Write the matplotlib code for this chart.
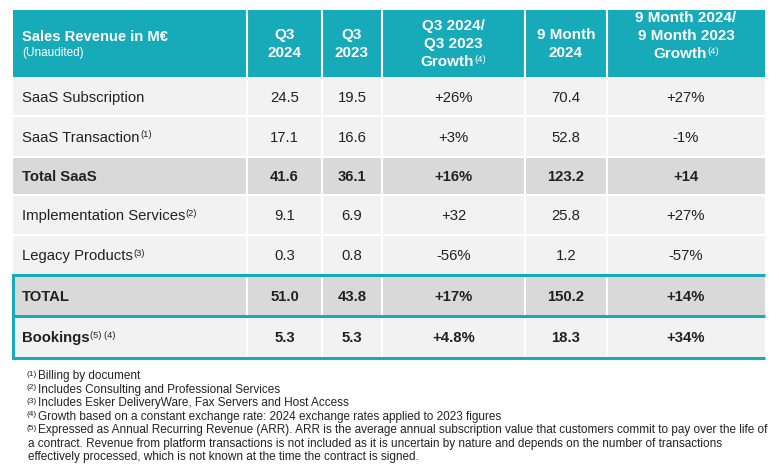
import matplotlib.pyplot as plt
from matplotlib.patches import Rectangle

# table content
col_heads = [['Q3', '2024'], ['Q3', '2023'], ['Q3 2024/', 'Q3 2023', 'Growth'],
             ['9 Month', '2024'], ['9 Month 2024/', '9 Month 2023', 'Growth']]
col_head_notes = ['', '', '(4)', '', '(4)']
row_labels = ['SaaS Subscription', 'SaaS Transaction', 'Total SaaS', 'Implementation Services',
              'Legacy Products', 'TOTAL', 'Bookings']
row_notes = ['', '(1)', '', '(2)', '(3)', '', '(5) (4)']
q3_2024 = ['24.5', '17.1', '41.6', '9.1', '0.3', '51.0', '5.3']
q3_2023 = ['19.5', '16.6', '36.1', '6.9', '0.8', '43.8', '5.3']
q3_growth = ['+26%', '+3%', '+16%', '+32', '-56%', '+17%', '+4.8%']
m9_2024 = ['70.4', '52.8', '123.2', '25.8', '1.2', '150.2', '18.3']
m9_growth = ['+27%', '-1%', '+14', '+27%', '-57%', '+14%', '+34%']
bold_rows = ['Total SaaS', 'TOTAL', 'Bookings']
shaded_rows = ['Total SaaS', 'TOTAL']

footnotes = [('(1)', 'Billing by document'),
             ('(2)', 'Includes Consulting and Professional Services'),
             ('(3)', 'Includes Esker DeliveryWare, Fax Servers and Host Access'),
             ('(4)', 'Growth based on a constant exchange rate: 2024 exchange rates applied to 2023 figures'),
             ('(5)', 'Expressed as Annual Recurring Revenue (ARR). ARR is the average annual subscription value that customers commit to pay over the life of'),
             ('', 'a contract. Revenue from platform transactions is not included as it is uncertain by nature and depends on the number of transactions'),
             ('', 'effectively processed, which is not known at the time the contract is signed.')]

TEAL = '#17AAB9'
LIGHT = '#F2F2F2'
DARK = '#D9D9D9'
TXT = '#222222'

plt.rcParams['font.family'] = ['Liberation Sans', 'DejaVu Sans']

fig = plt.figure(figsize=(7.79, 4.73), dpi=100)
ax = fig.add_axes([0, 0, 1, 1])
ax.set_xlim(0, 779)
ax.set_ylim(473, 0)
ax.axis('off')
rend = fig.canvas.get_renderer()


def put(x, y, s, sup='', ha='left', size=10, weight='normal', color=TXT, sup_dy=-3):
    kw = dict(fontsize=size, color=color, va='center', ha='left')
    t = ax.text(x, y, s, fontweight=weight, **kw)
    w = t.get_window_extent(rend).width
    sw = 0
    st = None
    if sup:
        kw['fontsize'] = size * 0.62
        st = ax.text(x + w + 0.5, y + sup_dy, sup, **kw)
        sw = st.get_window_extent(rend).width
    if ha == 'center':
        shift = (w + sw + (0.5 if sup else 0)) / 2
        t.set_x(x - shift)
        if st:
            st.set_x(x + w + 0.5 - shift)


# geometry
edges = [13, 247, 322, 382, 525, 607, 765]
head_top, head_bot = 10, 77
row_edges = [77, 116, 157, 195, 235, 275, 316, 358]
centers = [(edges[i] + edges[i + 1]) / 2 for i in range(1, 6)]

ax.add_patch(Rectangle((edges[0], head_top), edges[-1] - edges[0], head_bot - head_top,
                       facecolor=TEAL, edgecolor='none'))
for i, lab in enumerate(row_labels):
    y0, y1 = row_edges[i], row_edges[i + 1]
    ax.add_patch(Rectangle((edges[0], y0), edges[-1] - edges[0], y1 - y0,
                           facecolor=DARK if lab in shaded_rows else LIGHT, edgecolor='none'))
# white grid
for x in edges[1:-1]:
    ax.plot([x, x], [head_top, row_edges[-1]], color='white', lw=1.5)
for y in row_edges[1:-1]:
    ax.plot([edges[0], edges[-1]], [y, y], color='white', lw=1.5)

# header
put(22, 37, 'Sales Revenue in M€', size=10.6, weight='bold', color='white')
put(22, 53, '(Unaudited)', size=8.5, color='white')
for c, lines, note in zip(centers, col_heads, col_head_notes):
    n = len(lines)
    ys = [44 + (k - (n - 1) / 2) * 18 for k in range(n)]
    if n == 3 and c > 600:
        ys = [y - 8 for y in ys]
    for k, (ln, y) in enumerate(zip(lines, ys)):
        put(c, y, ln, sup=note if k == n - 1 else '', ha='center', size=11,
            weight='bold', color='white')

# body
cols = [q3_2024, q3_2023, q3_growth, m9_2024, m9_growth]
for i, lab in enumerate(row_labels):
    y = (row_edges[i] + row_edges[i + 1]) / 2 + 1
    wt = 'bold' if lab in bold_rows else 'normal'
    put(22, y, lab, sup=row_notes[i], size=10.7, weight=wt)
    for c, vals in zip(centers, cols):
        put(c, y, vals[i], ha='center', size=10.7, weight=wt)

# teal frame around TOTAL / Bookings
for y in row_edges[5:]:
    ax.plot([edges[0], edges[-1]], [y, y], color=TEAL, lw=2.2, solid_capstyle='butt')
ax.plot([edges[0], edges[0]], [row_edges[5], row_edges[-1]], color=TEAL, lw=2.2)

# footnotes
for k, (mark, txt) in enumerate(footnotes):
    y = 376 + k * 13.5
    if mark:
        put(27, y - 2, mark, size=6)
        put(38, y, txt, size=8.5)
    else:
        put(28, y, txt, size=8.5)

fig.savefig('out.png', dpi=100)
